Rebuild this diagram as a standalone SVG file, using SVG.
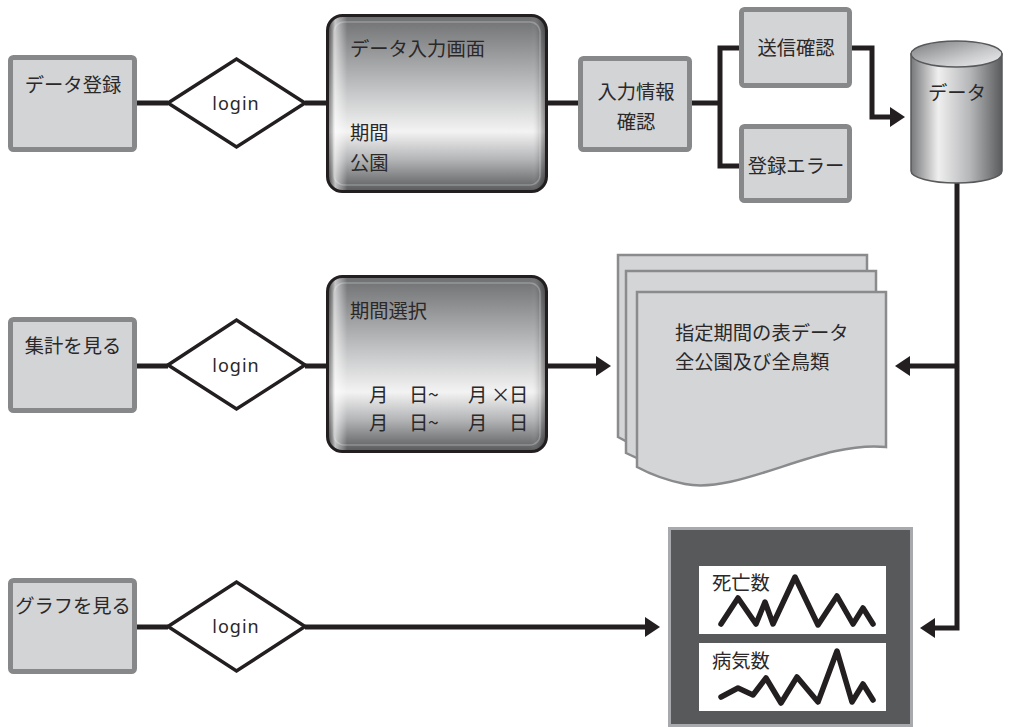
<svg xmlns="http://www.w3.org/2000/svg" width="1010" height="727" viewBox="0 0 1010 727">
<defs>
<style>
.jp{font-family:"Noto Sans CJK JP","Noto Sans",sans-serif;font-size:19.3px;fill:#2b2829}
.lg{font-family:"Noto Sans","Open Sans",sans-serif;font-size:18px;fill:#2b2829;letter-spacing:1px}
.box{fill:#d3d4d6;stroke:#87888a;stroke-width:5}
.dia{fill:#fff;stroke:#231f20;stroke-width:3.5}
.con{fill:none;stroke:#231f20;stroke-width:5}
.ah{fill:#231f20}
.doc{fill:#d4d5d7;stroke:#8a8b8d;stroke-width:2.5}
.zig{fill:none;stroke:#231f20;stroke-width:5.5;stroke-linecap:round;stroke-linejoin:round}
</style>
<linearGradient id="gv" x1="0" y1="0" x2="0" y2="1">
<stop offset="0" stop-color="#6d6e70"/>
<stop offset="0.15" stop-color="#8b8c8e"/>
<stop offset="0.45" stop-color="#c9cacb"/>
<stop offset="0.66" stop-color="#f3f3f3"/>
<stop offset="0.82" stop-color="#b3b4b6"/>
<stop offset="1" stop-color="#58595b"/>
</linearGradient>
<linearGradient id="gh" x1="0" y1="0" x2="1" y2="0">
<stop offset="0" stop-color="#000" stop-opacity="0.45"/>
<stop offset="0.035" stop-color="#fff" stop-opacity="0.6"/>
<stop offset="0.09" stop-color="#fff" stop-opacity="0"/>
<stop offset="0.93" stop-color="#fff" stop-opacity="0"/>
<stop offset="0.97" stop-color="#000" stop-opacity="0.15"/>
<stop offset="1" stop-color="#000" stop-opacity="0.45"/>
</linearGradient>
<linearGradient id="gc" x1="0" y1="0" x2="1" y2="0">
<stop offset="0" stop-color="#77787a"/>
<stop offset="0.3" stop-color="#efefef"/>
<stop offset="0.65" stop-color="#b5b6b8"/>
<stop offset="1" stop-color="#5a5b5d"/>
</linearGradient>
<linearGradient id="gct" x1="0" y1="0" x2="1" y2="1">
<stop offset="0" stop-color="#7a7b7d"/>
<stop offset="0.6" stop-color="#c8c9cb"/>
<stop offset="1" stop-color="#f2f2f2"/>
</linearGradient>
</defs>

<g id="connectors">
<path class="con" d="M137,103 H168 M305,103 H327 M548,103 H579 M692,103 H720 M740,48 H720 V166 H740 M852,48 H872 V117 H892"/>
<polygon class="ah" points="890,107 905,117 890,127"/>
<path class="con" d="M137,366 H168 M305,366 H327 M548,366 H597"/>
<polygon class="ah" points="596,356 611,366 596,376"/>
<path class="con" d="M957,183 V628 H934 M957,366 H909"/>
<polygon class="ah" points="935,618 920,628 935,638"/>
<polygon class="ah" points="910,356 895,366 910,376"/>
<path class="con" d="M137,627 H168 M305,627 H646"/>
<polygon class="ah" points="645,617 660,627 645,637"/>
</g>

<g id="node-data-register">
<rect class="box" x="10.5" y="57.5" width="124" height="92" rx="3"/>
<text class="jp" x="73" y="92" text-anchor="middle">データ登録</text>
</g>
<g id="node-login1">
<polygon class="dia" points="168,103 236.5,59 305,103 236.5,147"/>
<text class="lg" x="236" y="110" text-anchor="middle">login</text>
</g>
<g id="node-input-screen">
<rect x="327.5" y="15.5" width="219" height="176" rx="15" fill="url(#gv)"/>
<rect x="327.5" y="15.5" width="219" height="176" rx="15" fill="url(#gh)" stroke="#231f20" stroke-width="3"/>
<rect x="334" y="22" width="206" height="163" rx="10" fill="none" stroke="#fff" stroke-opacity="0.25" stroke-width="1.5"/>
<text class="jp" x="350" y="56">データ入力画面</text>
<text class="jp" x="350" y="140">期間</text>
<text class="jp" x="350" y="170">公園</text>
</g>
<g id="node-input-check">
<rect class="box" x="580.5" y="58.5" width="109" height="91" rx="3"/>
<text class="jp" x="636" y="99" text-anchor="middle">入力情報</text>
<text class="jp" x="636" y="129" text-anchor="middle">確認</text>
</g>
<g id="node-send-confirm">
<rect class="box" x="741.5" y="9.5" width="108" height="76" rx="3"/>
<text class="jp" x="796" y="55" text-anchor="middle">送信確認</text>
</g>
<g id="node-register-error">
<rect class="box" x="741.5" y="126.5" width="108" height="74" rx="3"/>
<text class="jp" x="796" y="173" text-anchor="middle">登録エラー</text>
</g>
<g id="node-database">
<path d="M911,54 V171 A45.5,12 0 0 0 1002,171 V54 Z" fill="url(#gc)" stroke="#58595b" stroke-width="1.5"/>
<ellipse cx="956.5" cy="54" rx="45.5" ry="13" fill="url(#gct)" stroke="#58595b" stroke-width="1.5"/>
<text class="jp" x="957" y="100" text-anchor="middle">データ</text>
</g>

<g id="node-summary">
<rect class="box" x="10.5" y="319.5" width="124" height="91" rx="3"/>
<text class="jp" x="73" y="353" text-anchor="middle">集計を見る</text>
</g>
<g id="node-login2">
<polygon class="dia" points="168,365 236.5,320 305,365 236.5,409"/>
<text class="lg" x="236" y="372" text-anchor="middle">login</text>
</g>
<g id="node-period-select">
<rect x="327.5" y="276.5" width="219" height="175" rx="15" fill="url(#gv)"/>
<rect x="327.5" y="276.5" width="219" height="175" rx="15" fill="url(#gh)" stroke="#231f20" stroke-width="3"/>
<rect x="334" y="283" width="206" height="162" rx="10" fill="none" stroke="#fff" stroke-opacity="0.25" stroke-width="1.5"/>
<text class="jp" x="350" y="318">期間選択</text>
<text class="jp" y="402"><tspan x="369">月</tspan><tspan x="409">日</tspan><tspan x="428">~</tspan><tspan x="468">月</tspan><tspan x="491">×</tspan><tspan x="509">日</tspan></text>
<text class="jp" y="430"><tspan x="369">月</tspan><tspan x="409">日</tspan><tspan x="428">~</tspan><tspan x="468">月</tspan><tspan x="509">日</tspan></text>
</g>
<g id="node-table-data">
<path class="doc" d="M618,255 H867 V415 C800,410 720,465 665,455 C645,451 630,444 618,437 Z"/>
<path class="doc" d="M626,271 H876 V430 C810,425 730,480 674,470 C654,466 640,460 626,453 Z"/>
<path class="doc" d="M637,292 H886 V447 C820,440 740,495 685,484 C665,480 650,474 637,467 Z"/>
<text class="jp" x="675" y="340">指定期間の表データ</text>
<text class="jp" x="675" y="369">全公園及び全鳥類</text>
</g>

<g id="node-graph-view">
<rect class="box" x="10.5" y="580.5" width="124" height="91" rx="3"/>
<text class="jp" x="73" y="613" text-anchor="middle">グラフを見る</text>
</g>
<g id="node-login3">
<polygon class="dia" points="168,626.5 236.5,582 305,626.5 236.5,671"/>
<text class="lg" x="236" y="633" text-anchor="middle">login</text>
</g>
<g id="node-graph">
<rect x="669.5" y="528.5" width="242" height="197" fill="#58595b" stroke="#a7a9ac" stroke-width="3"/>
<rect x="699" y="566" width="187" height="68" fill="#fff"/>
<rect x="699" y="643" width="187" height="68" fill="#fff"/>
<text class="jp" x="712" y="590">死亡数</text>
<text class="jp" x="712" y="668">病気数</text>
<polyline class="zig" points="721,624 738,598 756,624 765,602 773,624 795,577 818,625 837,596 853,624 863,608 873,624"/>
<polyline class="zig" points="721,697 738,688 753,695 766,678 781,703 797,677 818,702 837,651 852,702 863,684 873,700"/>
</g>
</svg>
